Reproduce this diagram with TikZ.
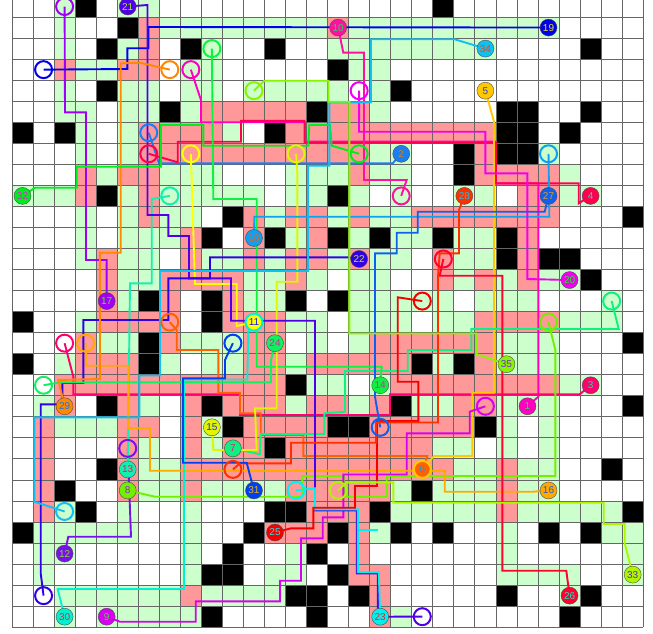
\documentclass[tikz,border=0pt]{standalone}
\usepackage{fontspec}
\setmainfont{Liberation Sans}
\usepackage{xcolor}
\definecolor{cellg}{RGB}{204,255,204}
\definecolor{cellp}{RGB}{255,153,153}
\definecolor{net1}{RGB}{255,0,192}
\definecolor{net2}{RGB}{26,128,240}
\definecolor{net3}{RGB}{255,0,112}
\definecolor{net4}{RGB}{255,0,80}
\definecolor{net5}{RGB}{255,200,0}
\definecolor{net6}{RGB}{255,96,0}
\definecolor{net7}{RGB}{16,240,128}
\definecolor{net8}{RGB}{112,240,0}
\definecolor{net9}{RGB}{216,0,240}
\definecolor{net10}{RGB}{255,16,160}
\definecolor{net11}{RGB}{255,255,0}
\definecolor{net12}{RGB}{122,16,235}
\definecolor{net13}{RGB}{16,240,176}
\definecolor{net14}{RGB}{16,240,64}
\definecolor{net15}{RGB}{224,245,0}
\definecolor{net16}{RGB}{255,168,0}
\definecolor{net17}{RGB}{160,0,245}
\definecolor{net18}{RGB}{16,160,240}
\definecolor{net19}{RGB}{0,0,235}
\definecolor{net20}{RGB}{240,0,240}
\definecolor{net21}{RGB}{80,0,230}
\definecolor{net22}{RGB}{48,0,230}
\definecolor{net23}{RGB}{0,240,240}
\definecolor{net24}{RGB}{16,240,96}
\definecolor{net25}{RGB}{245,0,0}
\definecolor{net26}{RGB}{255,0,48}
\definecolor{net27}{RGB}{16,96,240}
\definecolor{net28}{RGB}{255,48,0}
\definecolor{net29}{RGB}{255,136,0}
\definecolor{net30}{RGB}{0,240,208}
\definecolor{net31}{RGB}{0,64,240}
\definecolor{net32}{RGB}{0,235,32}
\definecolor{net33}{RGB}{176,245,0}
\definecolor{net34}{RGB}{16,192,240}
\definecolor{net35}{RGB}{136,245,0}
\pgfdeclarelayer{cells}
\pgfdeclarelayer{wires}
\pgfsetlayers{cells,wires,main}
\tikzset{
  wire/.style={line width=1.9pt, line join=miter},
  pin/.style={circle, draw=black!70, line width=.4pt, minimum size=17pt, inner sep=0pt, font=\fontsize{10}{10}\selectfont},
  hole/.style={circle, line width=2pt, minimum size=17pt, inner sep=0pt}
}
\newcommand{\cellx}[1]{12+21.04*(#1)}
\newcommand{\celly}[1]{-4+21.04*(#1)}
\begin{document}
\begin{tikzpicture}[x=1pt,y=-1pt]
  \useasboundingbox (0,0) rectangle (653,634);
  \clip (0,0) rectangle (653,634);

  % cells, one line per row
  \begin{pgfonlayer}{cells}
    \foreach \r/\cols in {0/{2,5,6},1/{2,7,8,9,10,11,12,13,14,16,17,18,19,20,21,22,23,24,25},2/{2,5,9,15,16,17,18,19,20,21,22},3/{3,4,8,9,16,17},4/{2,5,6,8,9,11,12,13,14,15,17},5/{2,3,5,6,8,17},6/{3,5,10},7/{3,5,17,18,25},8/{4,7,8,9,13,14,15,17,18,26},9/{0,1,2,5,7,8,9,10,11,13,14,16,18,21,22,26,27},10/{3,5,7,8,12,15,17,18},11/{3,5,6,7,13,16,18,19,21,22},12/{3,5,6,9,10,12,15,17,18,21,22},13/{5,6,11,12,14,16,17,21,23,25,26},14/{5,11,12,16,17,18,19,20,22,23,24,28},15/{3,13,14,16,17,18,20,21,26,27,28},16/{4,5,8,9,10,14,16,23,24,25},17/{2,7,9,10,13,20,23,24,25},18/{14,15,17,26,27},19/{1,6,13,16,19,20,23,24,25},20/{2,3,4,9,23,25},21/{6,9,20,21,23,25},22/{6,7,21,22,24,25},23/{6,7,9,10,11,12,18,20,21,22,24,25},24/{2,5,8,18,19,20,21,22,24,25,26,27,28},25/{1,2,3,4,5,8,17,23,28,29},26/{1,2,8,13,23,29},27/{1,8,12,13,23,24,25,26,29},28/{2,3,4,5,6,7,9,10,11,12,26},29/{2,4,5,6,7,8,18}}
      \foreach \c in \cols \fill[cellg] ({\cellx{\c}},{\celly{\r}}) rectangle +(21.04,21.04);
    \foreach \r/\cols in {1/{6,15},2/{6},3/{2,5,6},5/{9,10,11,12,13,15,16},6/{6,7,8,9,13,14,15,16,17,18,19,20,21,22},7/{6,7,8,9,10,11,12,13,14,15,16,22},8/{3,5,6,16,22,23,24,25},9/{3,6,24,25},10/{6,11,13,14,16,19,20,21,22,23,24,25},11/{8,11,14,24},12/{4,8,11,13,14,16,20,24},13/{4,7,8,9,10,13,20,22,24},14/{4,7,10},15/{4,5,6,7,10,11,12,22,23,24,25},16/{3,7,11,12,17,18,19,20,21,22},17/{3,4,5,11,12,14,15,16,17,18,22},18/{2,3,4,5,6,7,8,9,10,11,12,18,19,20,21,22,23,24,25},19/{2,5,8,10,11,12,14,15,17,21,22},20/{1,5,6,8,11,12,13,14,17,18,19,20,21},21/{1,5,8,10,11,13,14,15,16,17,18,19},22/{1,5,8,9,10,11,12,13,14,15,16,17,18,19,20,23},23/{1,5,8,13,14,15,16,17,23},24/{1,14,15,16,23},25/{12,13,14,16},26/{16},27/{16,17},28/{8,17},29/{17}}
      \foreach \c in \cols \fill[cellp] ({\cellx{\c}},{\celly{\r}}) rectangle +(21.04,21.04);
    \foreach \r/\cols in {0/{3,20},1/{5},2/{4,8,12,27},3/{15},4/{4,18},5/{7,14,23,24,27},6/{0,2,12,23,24,26},7/{21,23,24},8/{21},9/{4,15},10/{10,29},11/{9,12,15,17,20,23},12/{23,25,26},13/{27},14/{6,9,13,15},15/{0,9},16/{6,29},17/{0,6,19,21},18/{13},19/{4,9,18,29},20/{10,15,16,22},21/{12},22/{4,28},23/{2,19},24/{3,12,13,17,29},25/{0,11,15,18,20,25,27},26/{10,14},27/{9,10,15},28/{13,14,16,23,27},29/{9,14,26}}
      \foreach \c in \cols \fill[black] ({\cellx{\c}},{\celly{\r}}) rectangle +(21.04,21.04);
    \foreach \i in {0,...,30} {
      \draw[black!60, line width=.8pt] ({\cellx{\i}},-4) -- ({\cellx{\i}},{\celly{30}});
      \draw[black!60, line width=.8pt] (12,{\celly{\i}}) -- ({\cellx{30}},{\celly{\i}});
    }
  \end{pgfonlayer}

  % numbered ends
  \foreach \i/\c/\r in {1/24/19,2/18/7,3/27/18,4/27/9,5/22/4,6/19/22,7/10/21,8/5/23,9/4/29,10/15/1,11/11/15,12/2/26,13/5/22,14/17/18,15/9/20,16/25/23,17/4/14,18/11/11,19/25/1,20/26/13,21/5/0,22/16/12,23/17/29,24/12/16,25/12/25,26/26/28,27/25/9,28/21/9,29/2/19,30/2/29,31/11/23,32/0/9,33/29/27,34/22/2,35/23/17}
    \node[pin, fill=net\i, text=-net\i!80!gray] (n\i) at ({\cellx{\c+.5}},{\celly{\r+.5}}) {\i};

  % open ends
  \foreach \i/\c/\r in {1/8/3,2/6/6,3/2/16,4/6/7,5/19/22,6/7/15,7/28/14,8/25/15,9/22/19,10/18/9,11/8/7,12/5/21,13/7/9,14/9/2,15/13/7,16/3/16,17/2/0,18/25/7,19/1/3,20/16/4,21/19/29,22/1/28,23/13/23,24/1/18,25/19/14,26/20/12,27/17/20,28/10/22,29/7/3,30/11/15,31/10/16,32/16/7,33/15/23,34/2/24,35/11/4}
    \node[hole, draw=net\i] (h\i) at ({\cellx{\c+.5}},{\celly{\r+.5}}) {};

  \coordinate (stub a) at (357.8,530);
  \coordinate (stub b) at (378.3,530);

  \begin{pgfonlayer}{wires}
    \draw[wire, net1] (h1.center) -- (201,100) -- (201,122.2) -- (305,122.2) -- (305,141.5) -- (495,141.5) -- (495,183.3) -- (538.3,183.3) -- (538.3,396.7) -- (n1.center);
    \draw[wire, net2] (n2.center) -- (392.7,163.3) -- (159,163.3) -- (h2.center);
    \draw[wire, net3] (h3.center) -- (73.3,376.7) -- (73.3,394.3) -- (240,394.3) -- (240,415) -- (390,415) -- (390,394.3) -- (579.7,394.3) -- (n3.center);
    \draw[wire, net4] (h4.center) -- (177.7,162.3) -- (177.7,141.7) -- (241,141.7) -- (241,120.9) -- (304.5,120.9) -- (304.5,142.7) -- (496,142.7) -- (496,183.3) -- (578.7,183.3) -- (578.7,203.3) -- (n4.center);
    \draw[wire, net5] (n5.center) -- (494,121.7) -- (494,392.7) -- (472.3,392.7) -- (472.3,456) -- (434,456) -- (h5.center);
    \draw[wire, net6] (h6.center) -- (176.7,330) -- (176.7,350) -- (218.3,350) -- (218.3,392.7) -- (240,392.7) -- (240,413.3) -- (260.7,413.3) -- (260.7,435) -- (303.3,435) -- (303.3,456) -- (427.3,456) -- (n6.center);
    \draw[wire, net7] (n7.center) -- (260,454.3) -- (260.7,434) -- (324.3,434) -- (324.3,413.3) -- (345,411.7) -- (345,371) -- (407.7,371) -- (407.7,350) -- (471.3,350) -- (471.3,329) -- (618.7,329) -- (h7.center);
    \draw[wire, net8] (n8.center) -- (155,496.7) -- (302.3,496.7) -- (302.3,476) -- (344,476) -- (344,496.7) -- (386.7,496.7) -- (386.7,476) -- (555.3,476) -- (555.3,350) -- (h8.center);
    \draw[wire, net9] (n9.center) -- (120,621.7) -- (195.7,621.7) -- (195.7,601.3) -- (280,601.3) -- (280,580.7) -- (301,580.7) -- (301,538.3) -- (322.7,538.3) -- (322.7,517.3) -- (343.3,517.3) -- (343.3,474.5) -- (406.7,474.5) -- (406.7,433.3) -- (469.7,433.3) -- (469.7,411.7) -- (h9.center);
    \draw[wire, net10] (n10.center) -- (343.3,52.7) -- (364,52.7) -- (364,180) -- (406.7,180) -- (h10.center);
    \draw[wire, net11] (n11.center) -- (236.7,326) -- (236.7,284) -- (195,284) -- (h11.center);
    \draw[wire, net12] (n12.center) -- (68.3,536.7) -- (131,536.7) -- (h12.center);
    \draw[wire, net13] (n13.center) -- (130,283.3) -- (151.7,283.3) -- (151.7,199) -- (h13.center);
    \draw[wire, net14] (n14.center) -- (381.7,366.7) -- (256.7,366.7) -- (256.7,199) -- (213.3,199) -- (h14.center);
    \draw[wire, net15] (n15.center) -- (213.3,450) -- (256.7,450) -- (255,408.3) -- (276.7,408.3) -- (276.7,281.7) -- (297.3,281.7) -- (297.3,172) -- (h15.center);
    \draw[wire, net16] (n16.center) -- (533,491.7) -- (444.7,491.7) -- (444.7,470.7) -- (150,470.7) -- (150,428.3) -- (128.3,428.3) -- (128.3,365.7) -- (86,365.7) -- (h16.center);
    \draw[wire, net17] (n17.center) -- (106.7,260) -- (86,260) -- (86,112.3) -- (65,112.3) -- (h17.center);
    \draw[wire, net18] (n18.center) -- (254.3,216.7) -- (549.3,216.7) -- (h18.center);
    \draw[wire, net19] (n19.center) -- (148.3,27) -- (148.3,48.3) -- (127.3,48.3) -- (127.3,69) -- (h19.center);
    \draw[wire, net20] (h20.center) -- (359,131.7) -- (485.3,131.7) -- (485.3,173.3) -- (527.3,173.3) -- (527.3,279) -- (n20.center);
    \draw[wire, net21] (n21.center) -- (147.5,5) -- (147.5,215) -- (168.3,215) -- (168.3,236) -- (189,236) -- (189,278.3) -- (231,278.3) -- (231,320.7) -- (315,320.7) -- (315,510.5) -- (356.8,510.5) -- (356.8,573.5) -- (377.8,573.5) -- (377.8,616.7) -- (h21.center);
    \draw[wire, net22] (n22.center) -- (348.3,257.3) -- (210,257.3) -- (210,278.3) -- (168.3,278.3) -- (168.3,320) -- (83.3,320) -- (83.3,383) -- (62.3,383) -- (62.3,404.3) -- (40.7,404.3) -- (40.7,573.3) -- (h22.center);
    \draw[wire, net23] (h23.center) -- (315,488.3) -- (315,509.3) -- (357.8,509.3) -- (357.8,572.2) -- (378.8,572.2) -- (n23.center);
    \draw[wire, net23] (stub a) -- (stub b);
    \draw[wire, net24] (n24.center) -- (271,360) -- (271,382.3) -- (60,382.3) -- (h24.center);
    \draw[wire, net25] (n25.center) -- (291,528.3) -- (313.3,528.3) -- (313.3,507.7) -- (355,507.7) -- (355,486) -- (377,486) -- (377,421) -- (418.3,421) -- (418.3,381.7) -- (397.7,381.7) -- (397.7,297.3) -- (h25.center);
    \draw[wire, net26] (n26.center) -- (566.3,570.7) -- (502.3,570.7) -- (502.3,275.7) -- (439.7,275.7) -- (h26.center);
    \draw[wire, net27] (n27.center) -- (544.7,211.7) -- (417.7,211.7) -- (417.7,232.7) -- (396.7,232.7) -- (396.7,253.3) -- (375,253.3) -- (375,396.7) -- (h27.center);
    \draw[wire, net28] (n28.center) -- (459,210) -- (459,253.3) -- (439.7,253.3) -- (438,276.7) -- (438,422.5) -- (376,422.5) -- (376,442.7) -- (291,442.7) -- (291,463.3) -- (240,463.3) -- (h28.center);
    \draw[wire, net29] (n29.center) -- (58.3,380) -- (100,379) -- (100,252.7) -- (120.7,252.7) -- (120.7,63.3) -- (140,62.7) -- (h29.center);
    \draw[wire, net30] (n30.center) -- (57.7,589) -- (184,589) -- (184,379.5) -- (247.3,379.5) -- (248.3,331.7) -- (h30.center);
    \draw[wire, net31] (n31.center) -- (246.7,462.7) -- (183,462.7) -- (183,378.3) -- (225,378.3) -- (225,360) -- (h31.center);
    \draw[wire, net32] (n32.center) -- (35,187.7) -- (76.7,187.7) -- (76.7,166.7) -- (161,166.7) -- (161,125) -- (203.3,125) -- (203.3,145.7) -- (308.3,145.7) -- (309.3,125) -- (330,125) -- (331.7,145.7) -- (h32.center);
    \draw[wire, net33] (n33.center) -- (624.7,543.3) -- (624.7,524) -- (603.7,524) -- (603.7,502.7) -- (393.3,502.7) -- (393.3,482.3) -- (346.7,482.3) -- (h33.center);
    \draw[wire, net34] (n34.center) -- (454.7,39.3) -- (371,39.3) -- (371,102.3) -- (329.3,102.3) -- (329.3,165.7) -- (308,165.7) -- (308,271) -- (160,271) -- (160,375.5) -- (139.3,375.5) -- (139.3,417.3) -- (34.3,417.3) -- (34.3,501.7) -- (h34.center);
    \draw[wire, net35] (n35.center) -- (476.3,354) -- (476.3,333.5) -- (349.3,333.5) -- (349.3,101.7) -- (328.3,101.7) -- (328.3,80.7) -- (264.3,80.7) -- (h35.center);
  \end{pgfonlayer}
\end{tikzpicture}
\end{document}
